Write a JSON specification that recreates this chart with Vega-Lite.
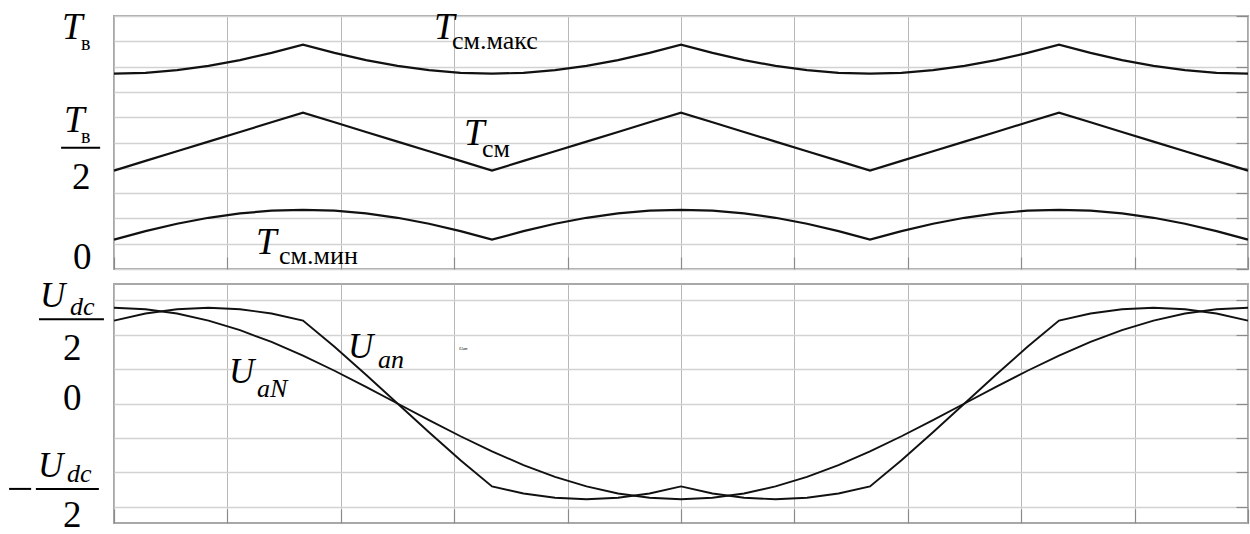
{
  "$schema": "https://vega.github.io/schema/vega-lite/v6.json",
  "background": "white",
  "padding": {"left": 7, "top": 7, "right": 0, "bottom": 0},
  "spacing": 1,
  "config": {
    "view": {"stroke": "#a8a8a8", "strokeWidth": 2},
    "text": {"color": "black", "align": "left", "baseline": "alphabetic"}
  },
  "datasets": {
    "top": [
      {"t":0,"max":6.72,"mid":2.89,"min":0.16},
      {"t":10,"max":6.755,"mid":3.272,"min":0.497},
      {"t":20,"max":6.859,"mid":3.653,"min":0.788},
      {"t":30,"max":7.028,"mid":4.035,"min":1.024},
      {"t":40,"max":7.258,"mid":4.417,"min":1.198},
      {"t":50,"max":7.542,"mid":4.798,"min":1.304},
      {"t":60,"max":7.87,"mid":5.18,"min":1.34},
      {"t":70,"max":7.542,"mid":4.798,"min":1.304},
      {"t":80,"max":7.258,"mid":4.417,"min":1.198},
      {"t":90,"max":7.028,"mid":4.035,"min":1.024},
      {"t":100,"max":6.859,"mid":3.653,"min":0.788},
      {"t":110,"max":6.755,"mid":3.272,"min":0.497},
      {"t":120,"max":6.72,"mid":2.89,"min":0.16},
      {"t":130,"max":6.755,"mid":3.272,"min":0.497},
      {"t":140,"max":6.859,"mid":3.653,"min":0.788},
      {"t":150,"max":7.028,"mid":4.035,"min":1.024},
      {"t":160,"max":7.258,"mid":4.417,"min":1.198},
      {"t":170,"max":7.542,"mid":4.798,"min":1.304},
      {"t":180,"max":7.87,"mid":5.18,"min":1.34},
      {"t":190,"max":7.542,"mid":4.798,"min":1.304},
      {"t":200,"max":7.258,"mid":4.417,"min":1.198},
      {"t":210,"max":7.028,"mid":4.035,"min":1.024},
      {"t":220,"max":6.859,"mid":3.653,"min":0.788},
      {"t":230,"max":6.755,"mid":3.272,"min":0.497},
      {"t":240,"max":6.72,"mid":2.89,"min":0.16},
      {"t":250,"max":6.755,"mid":3.272,"min":0.497},
      {"t":260,"max":6.859,"mid":3.653,"min":0.788},
      {"t":270,"max":7.028,"mid":4.035,"min":1.024},
      {"t":280,"max":7.258,"mid":4.417,"min":1.198},
      {"t":290,"max":7.542,"mid":4.798,"min":1.304},
      {"t":300,"max":7.87,"mid":5.18,"min":1.34},
      {"t":310,"max":7.542,"mid":4.798,"min":1.304},
      {"t":320,"max":7.258,"mid":4.417,"min":1.198},
      {"t":330,"max":7.028,"mid":4.035,"min":1.024},
      {"t":340,"max":6.859,"mid":3.653,"min":0.788},
      {"t":350,"max":6.755,"mid":3.272,"min":0.497},
      {"t":360,"max":6.72,"mid":2.89,"min":0.16}
    ],
    "bottom": [
      {"t":0,"uaN":2.78,"uan":2.408},
      {"t":10,"uaN":2.738,"uan":2.612},
      {"t":20,"uaN":2.612,"uan":2.738},
      {"t":30,"uaN":2.408,"uan":2.78},
      {"t":40,"uaN":2.13,"uan":2.738},
      {"t":50,"uaN":1.787,"uan":2.612},
      {"t":60,"uaN":1.39,"uan":2.408},
      {"t":70,"uaN":0.951,"uan":1.647},
      {"t":80,"uaN":0.483,"uan":0.836},
      {"t":90,"uaN":0,"uan":0},
      {"t":100,"uaN":-0.483,"uan":-0.836},
      {"t":110,"uaN":-0.951,"uan":-1.647},
      {"t":120,"uaN":-1.39,"uan":-2.408},
      {"t":130,"uaN":-1.787,"uan":-2.612},
      {"t":140,"uaN":-2.13,"uan":-2.738},
      {"t":150,"uaN":-2.408,"uan":-2.78},
      {"t":160,"uaN":-2.612,"uan":-2.738},
      {"t":170,"uaN":-2.738,"uan":-2.612},
      {"t":180,"uaN":-2.78,"uan":-2.408},
      {"t":190,"uaN":-2.738,"uan":-2.612},
      {"t":200,"uaN":-2.612,"uan":-2.738},
      {"t":210,"uaN":-2.408,"uan":-2.78},
      {"t":220,"uaN":-2.13,"uan":-2.738},
      {"t":230,"uaN":-1.787,"uan":-2.612},
      {"t":240,"uaN":-1.39,"uan":-2.408},
      {"t":250,"uaN":-0.951,"uan":-1.647},
      {"t":260,"uaN":-0.483,"uan":-0.836},
      {"t":270,"uaN":0,"uan":0},
      {"t":280,"uaN":0.483,"uan":0.836},
      {"t":290,"uaN":0.951,"uan":1.647},
      {"t":300,"uaN":1.39,"uan":2.408},
      {"t":310,"uaN":1.787,"uan":2.612},
      {"t":320,"uaN":2.13,"uan":2.738},
      {"t":330,"uaN":2.408,"uan":2.78},
      {"t":340,"uaN":2.612,"uan":2.738},
      {"t":350,"uaN":2.738,"uan":2.612},
      {"t":360,"uaN":2.78,"uan":2.408}
    ],
    "topItalic": [
      {"t":-16.5,"v":8.10,"txt":"T"},
      {"t":-15.9,"v":4.43,"txt":"T"},
      {"t":101.6,"v":8.10,"txt":"T"},
      {"t":111.1,"v":3.91,"txt":"T"},
      {"t":45.1,"v":-0.40,"txt":"T"}
    ],
    "topSubSmall": [
      {"t":-10.5,"v":7.67,"txt":"в"},
      {"t":-10.5,"v":3.99,"txt":"в"}
    ],
    "topSub": [
      {"t":107.3,"v":7.71,"txt":"см.макс"},
      {"t":116.8,"v":3.44,"txt":"см"},
      {"t":52.4,"v":-0.79,"txt":"см.мин"}
    ],
    "topDigits": [
      {"t":-13.3,"v":2.17,"txt":"2"},
      {"t":-13.0,"v":-0.99,"txt":"0"}
    ],
    "topBars": [
      {"t":-16.8,"t2":-4.4,"v":3.79}
    ],
    "botItalic": [
      {"t":-23.5,"v":2.80,"txt":"U"},
      {"t":-24.1,"v":-2.13,"txt":"U"},
      {"t":36.5,"v":0.60,"txt":"U"},
      {"t":74.3,"v":1.32,"txt":"U"}
    ],
    "botSub": [
      {"t":-14.0,"v":2.57,"txt":"dc"},
      {"t":-14.9,"v":-2.28,"txt":"dc"},
      {"t":45.4,"v":0.19,"txt":"aN"},
      {"t":83.8,"v":1.03,"txt":"an"}
    ],
    "botDigits": [
      {"t":-16.2,"v":1.26,"txt":"2"},
      {"t":-16.2,"v":-0.19,"txt":"0"},
      {"t":-16.2,"v":-3.59,"txt":"2"}
    ],
    "botBars": [
      {"t":-23.8,"t2":-3.2,"v":2.45},
      {"t":-24.8,"t2":-4.8,"v":-2.48},
      {"t":-33.3,"t2":-26.3,"v":-2.48}
    ],
    "botTiny": [
      {"t":109.5,"v":1.55,"txt":"Uan"}
    ]
  },
  "vconcat": [
    {
      "width": 1134,
      "height": 253,
      "encoding": {
        "x": {"field": "t", "type": "quantitative", "scale": {"domain": [0, 360], "nice": false, "zero": false},
              "axis": {"values": [0,36,72,108,144,180,216,252,288,324,360], "labels": false, "title": null, "domain": false,
                       "grid": true, "gridColor": "#b8b8b8", "gridWidth": 1, "ticks": true, "tickSize": -12, "tickColor": "#8a8a8a", "tickWidth": 1.2}},
        "y": {"field": "v", "type": "quantitative", "scale": {"domain": [-1, 9], "nice": false, "zero": false},
              "axis": {"values": [-1,0,1,2,3,4,5,6,7,8,9], "labels": false, "title": null, "domain": false,
                       "grid": true, "gridColor": "#d2d2d2", "gridWidth": 1.5, "ticks": true, "tickSize": -12, "tickColor": "#8a8a8a", "tickWidth": 1.2}}
      },
      "layer": [
        {
          "data": {"name": "top"},
          "transform": [{"fold": ["max", "mid", "min"], "as": ["s", "v"]}],
          "mark": {"type": "line", "color": "#111", "strokeWidth": 2.2},
          "encoding": {"detail": {"field": "s", "type": "nominal"}}
        },
        {
          "data": {"name": "topItalic"},
          "mark": {"type": "text", "font": "Liberation Serif", "fontSize": 37, "fontStyle": "italic", "align": "left", "baseline": "alphabetic", "color": "black"},
          "encoding": {"text": {"field": "txt"}}
        },
        {
          "data": {"name": "topSubSmall"},
          "mark": {"type": "text", "font": "Liberation Serif", "fontSize": 20, "fontStyle": "normal", "align": "left", "baseline": "alphabetic", "color": "black"},
          "encoding": {"text": {"field": "txt"}}
        },
        {
          "data": {"name": "topSub"},
          "mark": {"type": "text", "font": "Liberation Serif", "fontSize": 26, "fontStyle": "normal", "align": "left", "baseline": "alphabetic", "color": "black"},
          "encoding": {"text": {"field": "txt"}}
        },
        {
          "data": {"name": "topDigits"},
          "mark": {"type": "text", "font": "Liberation Serif", "fontSize": 37, "fontStyle": "normal", "align": "left", "baseline": "alphabetic", "color": "black"},
          "encoding": {"text": {"field": "txt"}}
        },
        {
          "data": {"name": "topBars"},
          "mark": {"type": "rule", "color": "black", "strokeWidth": 2},
          "encoding": {
            "x2": {"field": "t2"},
            "y": {"field": "v", "type": "quantitative", "scale": {"domain": [-1, 9], "nice": false, "zero": false},
                  "axis": {"orient": "right", "values": [-1,0,1,2,3,4,5,6,7,8,9], "labels": false, "title": null, "domain": false,
                           "grid": false, "ticks": true, "tickSize": -10, "tickColor": "#8a8a8a", "tickWidth": 1.2}}
          }
        }
      ]
    },
    {
      "width": 1134,
      "height": 239,
      "encoding": {
        "x": {"field": "t", "type": "quantitative", "scale": {"domain": [0, 360], "nice": false, "zero": false},
              "axis": {"values": [0,36,72,108,144,180,216,252,288,324,360], "labels": false, "title": null, "domain": false,
                       "grid": true, "gridColor": "#b8b8b8", "gridWidth": 1, "ticks": true, "tickSize": -14, "tickColor": "#8a8a8a", "tickWidth": 1.2}},
        "y": {"field": "v", "type": "quantitative", "scale": {"domain": [-3.47, 3.47], "nice": false, "zero": false},
              "axis": {"values": [-3,-2,-1,0,1,2,3], "labels": false, "title": null, "domain": false,
                       "grid": true, "gridColor": "#d2d2d2", "gridWidth": 1.5, "ticks": true, "tickSize": -12, "tickColor": "#8a8a8a", "tickWidth": 1.2}}
      },
      "layer": [
        {
          "data": {"name": "bottom"},
          "transform": [{"fold": ["uaN", "uan"], "as": ["s", "v"]}],
          "mark": {"type": "line", "color": "#111", "strokeWidth": 1.9},
          "encoding": {"detail": {"field": "s", "type": "nominal"}}
        },
        {
          "data": {"name": "botItalic"},
          "mark": {"type": "text", "font": "Liberation Serif", "fontSize": 35, "fontStyle": "italic", "align": "left", "baseline": "alphabetic", "color": "black"},
          "encoding": {"text": {"field": "txt"}}
        },
        {
          "data": {"name": "botSub"},
          "mark": {"type": "text", "font": "Liberation Serif", "fontSize": 26, "fontStyle": "italic", "align": "left", "baseline": "alphabetic", "color": "black"},
          "encoding": {"text": {"field": "txt"}}
        },
        {
          "data": {"name": "botDigits"},
          "mark": {"type": "text", "font": "Liberation Serif", "fontSize": 37, "fontStyle": "normal", "align": "left", "baseline": "alphabetic", "color": "black"},
          "encoding": {"text": {"field": "txt"}}
        },
        {
          "data": {"name": "botTiny"},
          "mark": {"type": "text", "font": "Liberation Serif", "fontSize": 5, "fontStyle": "italic", "align": "left", "baseline": "alphabetic", "color": "black"},
          "encoding": {"text": {"field": "txt"}}
        },
        {
          "data": {"name": "botBars"},
          "mark": {"type": "rule", "color": "black", "strokeWidth": 2},
          "encoding": {
            "x2": {"field": "t2"},
            "y": {"field": "v", "type": "quantitative", "scale": {"domain": [-3.47, 3.47], "nice": false, "zero": false},
                  "axis": {"orient": "right", "values": [-3,-2,-1,0,1,2,3], "labels": false, "title": null, "domain": false,
                           "grid": false, "ticks": true, "tickSize": -10, "tickColor": "#8a8a8a", "tickWidth": 1.2}}
          }
        }
      ]
    }
  ]
}
